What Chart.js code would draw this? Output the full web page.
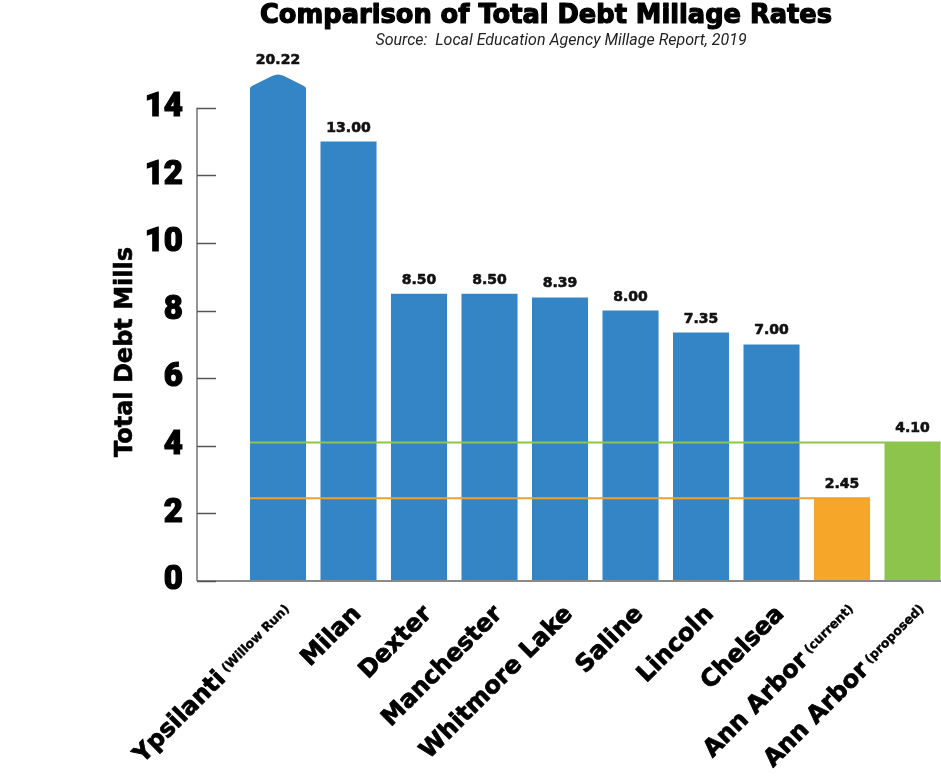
<!DOCTYPE html>
<html>
<head>
<meta charset="utf-8">
<script src="https://cdn.jsdelivr.net/npm/chart.js@4/dist/chart.umd.min.js"></script>
<style>
  html, body { margin: 0; padding: 0; background: #ffffff; }
  #wrap { width: 941px; height: 779px; position: relative; }
</style>
</head>
<body>
<div id="wrap"><canvas id="c"></canvas></div>
<script>
// ---- data ----
const categories = ['Ypsilanti', 'Milan', 'Dexter', 'Manchester', 'Whitmore Lake', 'Saline', 'Lincoln', 'Chelsea', 'Ann Arbor', 'Ann Arbor'];
const categoryNotes = ['(Willow Run)', '', '', '', '', '', '', '', '(current)', '(proposed)'];
const debtMills = [20.22, 13.00, 8.50, 8.50, 8.39, 8.00, 7.35, 7.00, 2.45, 4.10];
const yTickValues = [0, 2, 4, 6, 8, 10, 12, 14];
const referenceBars = [8, 9]; // Ann Arbor current / proposed, drawn as guide lines

const titleText = 'Comparison of Total Debt Millage Rates';
const subtitleText = 'Source:  Local Education Agency Millage Report, 2019';
const yAxisTitle = 'Total Debt Mills';

// ---- styles ----
const BLUE = '#3385c6';
const ORANGE = '#f6a629';
const GREEN = '#8dc54c';
const barColors = categories.map((c, i) => i === 8 ? ORANGE : (i === 9 ? GREEN : BLUE));
const lineColors = { 8: '#f0a030', 9: '#8dc54c' };

function heavyText(ctx, text, x, y, stroke) {
  ctx.lineJoin = 'round';
  ctx.lineWidth = stroke;
  ctx.strokeStyle = ctx.fillStyle;
  ctx.strokeText(text, x, y);
  ctx.fillText(text, x, y);
}

const decor = {
  id: 'decor',
  beforeDraw(chart) {
    const ctx = chart.ctx;
    ctx.save();
    ctx.fillStyle = '#ffffff';
    ctx.fillRect(0, 0, chart.width, chart.height);
    ctx.restore();
  },
  afterDatasetsDraw(chart) {
    const { ctx, chartArea: a, scales: { x, y } } = chart;
    const meta = chart.getDatasetMeta(0);
    ctx.save();

    // broken (capped) top for bars exceeding the axis
    meta.data.forEach((bar, i) => {
      if (debtMills[i] <= y.max) return;
      const half = bar.width / 2, l = bar.x - half, r = bar.x + half, t = a.top;
      ctx.fillStyle = '#ffffff';
      ctx.beginPath();
      ctx.moveTo(l - 1, t - 1);
      ctx.lineTo(l - 1, t + 16);
      ctx.quadraticCurveTo(l, t + 12.5, l + 4, t + 11);
      ctx.lineTo(bar.x - 6, t + 2);
      ctx.quadraticCurveTo(bar.x, t - 1.2, bar.x + 6, t + 2);
      ctx.lineTo(r - 4, t + 11);
      ctx.quadraticCurveTo(r, t + 12.5, r + 1, t + 16);
      ctx.lineTo(r + 1, t - 1);
      ctx.closePath();
      ctx.fill();
    });

    // guide lines at Ann Arbor rates
    const first = meta.data[0];
    const startX = first.x - first.width / 2;
    referenceBars.forEach((idx) => {
      const bar = meta.data[idx];
      const py = y.getPixelForValue(debtMills[idx]);
      ctx.strokeStyle = lineColors[idx];
      ctx.lineWidth = 2;
      ctx.beginPath();
      ctx.moveTo(startX, py);
      ctx.lineTo(bar.x + bar.width / 2, py);
      ctx.stroke();
    });

    // axis lines and tick marks
    const y0 = y.getPixelForValue(0);
    const yTop = y.getPixelForValue(yTickValues[yTickValues.length - 1]);
    ctx.strokeStyle = '#8a8a8a';
    ctx.lineWidth = 2;
    ctx.beginPath();
    ctx.moveTo(a.left, y0);
    ctx.lineTo(a.right, y0);
    ctx.stroke();
    ctx.strokeStyle = '#707070';
    ctx.lineWidth = 1.5;
    ctx.beginPath();
    ctx.moveTo(a.left, yTop);
    ctx.lineTo(a.left, y0);
    ctx.stroke();
    ctx.strokeStyle = '#555555';
    yTickValues.forEach((v) => {
      const py = Math.round(y.getPixelForValue(v)) + 0.5;
      ctx.beginPath();
      ctx.moveTo(a.left, py);
      ctx.lineTo(a.left + 19, py);
      ctx.stroke();
    });

    // value labels
    ctx.fillStyle = '#111111';
    ctx.font = 'bold 14px "DejaVu Sans"';
    ctx.textAlign = 'center';
    ctx.textBaseline = 'alphabetic';
    meta.data.forEach((bar, i) => {
      const top = Math.max(bar.y, a.top);
      heavyText(ctx, debtMills[i].toFixed(2), bar.x, top - 10, 0.6);
    });

    // category labels (rotated, with small raised notes)
    ctx.fillStyle = '#000000';
    categories.forEach((name, i) => {
      const cx = x.getPixelForValue(i);
      ctx.save();
      ctx.translate(cx + 13.5, 615);
      ctx.rotate(-Math.PI / 4);
      ctx.textAlign = 'right';
      ctx.textBaseline = 'alphabetic';
      let end = 0;
      const note = categoryNotes[i];
      if (note) {
        ctx.font = 'bold 12.5px "DejaVu Sans"';
        heavyText(ctx, note, 3, -5, 0.4);
        end = 3 - ctx.measureText(note).width - 5;
      }
      ctx.font = 'bold 24px "DejaVu Sans"';
      heavyText(ctx, name, end, 0, 0.8);
      ctx.restore();
    });

    // y axis title
    ctx.save();
    ctx.translate(126, 352);
    ctx.rotate(-Math.PI / 2);
    ctx.font = 'bold 24px "DejaVu Sans"';
    ctx.textAlign = 'center';
    ctx.textBaseline = 'middle';
    heavyText(ctx, yAxisTitle, 0, 0, 0.6);
    ctx.restore();

    // title and subtitle
    ctx.textAlign = 'center';
    ctx.textBaseline = 'alphabetic';
    ctx.font = 'bold 25.7px "DejaVu Sans"';
    heavyText(ctx, titleText, 546, 23, 1.2);
    ctx.font = 'italic 16px Roboto';
    ctx.fillStyle = '#222222';
    ctx.fillText(subtitleText, 561, 45);

    ctx.restore();
  }
};

new Chart(document.getElementById('c'), {
  type: 'bar',
  data: {
    datasets: [{
      data: debtMills.map((v, i) => ({ x: i, y: v })),
      backgroundColor: barColors,
      borderWidth: 0,
      barPercentage: 0.795,
      categoryPercentage: 1,
      clip: 0
    }]
  },
  options: {
    responsive: true,
    maintainAspectRatio: false,
    animation: false,
    layout: { padding: { top: 74, left: 0, right: 0, bottom: 0 } },
    plugins: {
      legend: { display: false },
      tooltip: { enabled: false },
      title: { display: false }
    },
    scales: {
      x: {
        type: 'linear',
        offset: false,
        min: -1.149,
        max: 9.404,
        grid: { display: false, offset: false },
        border: { display: false },
        ticks: { display: false, stepSize: 1, includeBounds: false },
        afterFit(scale) { scale.height = 198; }
      },
      y: {
        min: 0,
        max: 15,
        grid: { display: false, drawTicks: false },
        border: { display: false },
        ticks: {
          stepSize: 2,
          includeBounds: false,
          padding: 14,
          color: '#000000',
          textStrokeColor: '#000000',
          textStrokeWidth: 1.2,
          font: { family: 'Roboto', weight: '900', size: 33 }
        },
        afterFit(scale) { scale.width = 197; }
      }
    }
  },
  plugins: [decor]
});
</script>
</body>
</html>
